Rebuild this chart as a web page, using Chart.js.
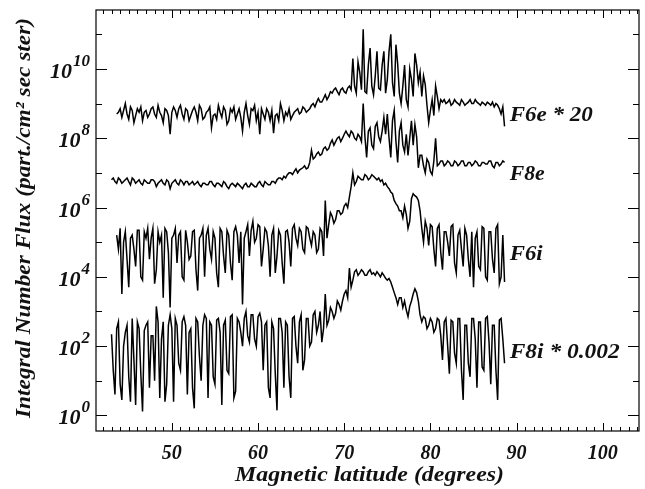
<!DOCTYPE html>
<html>
<head>
<meta charset="utf-8">
<script src="https://cdn.jsdelivr.net/npm/chart.js@4.4.1/dist/chart.umd.min.js"></script>
<style>
  html, body { margin: 0; padding: 0; background: #fff; }
  #wrap { width: 645px; height: 489px; }
</style>
</head>
<body>
<div id="wrap"><canvas id="flux_chart" width="645" height="489"></canvas></div>
<script>
// Sample latitudes (degrees) shared by all four traces
var latitudes = [
    43.0, 43.2, 43.4, 43.6, 43.8, 44.0, 44.2, 44.4, 44.6, 44.8,
    45.0, 45.2, 45.4, 45.6, 45.8, 46.0, 46.2, 46.4, 46.6, 46.8,
    47.0, 47.2, 47.4, 47.6, 47.8, 48.0, 48.2, 48.4, 48.6, 48.8,
    49.0, 49.2, 49.4, 49.6, 49.8, 50.0, 50.2, 50.4, 50.6, 50.8,
    51.0, 51.2, 51.4, 51.6, 51.8, 52.0, 52.2, 52.4, 52.6, 52.8,
    53.0, 53.2, 53.4, 53.6, 53.8, 54.0, 54.2, 54.4, 54.6, 54.8,
    55.0, 55.2, 55.4, 55.6, 55.8, 56.0, 56.2, 56.4, 56.6, 56.8,
    57.0, 57.2, 57.4, 57.6, 57.8, 58.0, 58.2, 58.4, 58.6, 58.8,
    59.0, 59.2, 59.4, 59.6, 59.8, 60.0, 60.2, 60.4, 60.6, 60.8,
    61.0, 61.2, 61.4, 61.6, 61.8, 62.0, 62.2, 62.4, 62.6, 62.8,
    63.0, 63.2, 63.4, 63.6, 63.8, 64.0, 64.2, 64.4, 64.6, 64.8,
    65.0, 65.2, 65.4, 65.6, 65.8, 66.0, 66.2, 66.4, 66.6, 66.8,
    67.0, 67.2, 67.4, 67.6, 67.8, 68.0, 68.2, 68.4, 68.6, 68.8,
    69.0, 69.2, 69.4, 69.6, 69.8, 70.0, 70.2, 70.4, 70.6, 70.8,
    71.0, 71.2, 71.4, 71.6, 71.8, 72.0, 72.2, 72.4, 72.6, 72.8,
    73.0, 73.2, 73.4, 73.6, 73.8, 74.0, 74.2, 74.4, 74.6, 74.8,
    75.0, 75.2, 75.4, 75.6, 75.8, 76.0, 76.2, 76.4, 76.6, 76.8,
    77.0, 77.2, 77.4, 77.6, 77.8, 78.0, 78.2, 78.4, 78.6, 78.8,
    79.0, 79.2, 79.4, 79.6, 79.8, 80.0, 80.2, 80.4, 80.6, 80.8,
    81.0, 81.2, 81.4, 81.6, 81.8, 82.0, 82.2, 82.4, 82.6, 82.8,
    83.0, 83.2, 83.4, 83.6, 83.8, 84.0, 84.2, 84.4, 84.6, 84.8,
    85.0, 85.2, 85.4, 85.6, 85.8, 86.0, 86.2, 86.4, 86.6, 86.8,
    87.0, 87.2, 87.4, 87.6, 87.8, 88.0, 88.2, 88.4, 88.6
]

// F6e * 20
var f6eFlux = [
    null, null, null, 5e8, 5.6e8, 7.1e8, 4e8, 6.3e8, 1e9, 5e8,
    3.5e8, 8e8, 6.3e8, 2.8e8, 4.5e8, 7.1e8, 5.6e8, 8e8, 3.2e8, 5.6e8,
    6.3e8, 4e8, 5e8, 7.1e8, 8e8, 5e8, 4e8, 8.9e8, 5.6e8, 4.5e8,
    2.8e8, 7.1e8, 6.3e8, 4.5e8, 1.3e8, 5.6e8, 8e8, 6.3e8, 4e8, 7.1e8,
    8.9e8, 5e8, 3.5e8, 7.1e8, 6.3e8, 3.2e8, 4.5e8, 6.3e8, 8e8, 5.6e8,
    3.2e8, 8.9e8, 7.1e8, 3.5e8, 4e8, 5.6e8, 6.3e8, 8e8, 2e8, 4.5e8,
    5e8, 3.5e8, 8.9e8, 5.6e8, 4e8, 8e8, 6.3e8, 2.5e8, 3.2e8, 7.1e8,
    5.6e8, 8e8, 3.5e8, 5e8, 7.1e8, 4e8, 1.6e8, 5.6e8, 1e9, 4.5e8,
    2.5e8, 7.1e8, 6.3e8, 8.9e8, 3.2e8, 5.6e8, 1.3e8, 7.1e8, 5e8, 3.5e8,
    7.1e8, 5.6e8, 3.2e8, 6.3e8, 1.4e8, 4.5e8, 5e8, 3.2e8, 1e9, 6.3e8,
    3.2e8, 5.6e8, 4.5e8, 7.1e8, 3.5e8, 4.5e8, 5.6e8, 6.3e8, 7.1e8, 5e8,
    5.6e8, 8e8, 7.1e8, 5.6e8, 6.3e8, 7.1e8, 8.9e8, 1e9, 8e8, 1.1e9,
    1.4e9, 1.1e9, 1.1e9, 1.4e9, 1.8e9, 1.3e9, 1.6e9, 2.2e9, 2e9, 2.5e9,
    2.8e9, 2.2e9, 1.8e9, 2.5e9, 2.8e9, 2.2e9, 2e9, 2.8e9, 3.2e9, 2.5e9,
    2e10, 3.2e9, 2e9, 1.6e10, 8e9, 2.5e9, 1.4e11, 2.2e9, 2e9, 1.3e10,
    4e10, 3.2e9, 1.8e9, 6.3e9, 3.2e10, 2.8e9, 2.5e9, 1.3e10, 3.2e10, 2e9,
    5e9, 3.2e10, 1e11, 4e9, 1.6e9, 5e10, 1.4e10, 2e9, 1e9, 3.2e9,
    1.3e10, 1.3e9, 8e8, 1e10, 5e9, 1.6e9, 2.8e10, 1.3e10, 4e9, 8e9,
    1.6e9, 6.3e9, 3.5e9, 8.9e8, 2.8e8, 6.3e8, 1.3e9, 4.5e8, 3.2e9, 1.6e9,
    7.1e8, 1.3e9, 1.1e9, 1.3e9, 1e9, 1.1e9, 1.3e9, 8.9e8, 1e9, 1.3e9,
    1.1e9, 1e9, 8.9e8, 1.3e9, 1.1e9, 8.9e8, 1e9, 1.1e9, 1.3e9, 1e9,
    1e9, 1.3e9, 1.1e9, 1e9, 8.9e8, 1.1e9, 1e9, 8.9e8, 1.1e9, 1e9,
    8.9e8, 1.1e9, 8e8, 1e9, 8.9e8, 7.1e8, 5e8, 8e8, 2.2e8
]

// F8e
var f8eFlux = [
    6.3e6, 7.1e6, 5.6e6, 5e6, 7.1e6, 6.3e6, 5e6, 5.6e6, 6.3e6, 7.1e6,
    5.6e6, 4.5e6, 7.1e6, 6.3e6, 5e6, 5.6e6, 6.3e6, 5e6, 4.5e6, 6.3e6,
    5.6e6, 5e6, 5e6, 6.3e6, 6.3e6, 5.6e6, 4e6, 5e6, 5.6e6, 6.3e6,
    5e6, 4.5e6, 6.3e6, 5.6e6, 3.5e6, 5e6, 5.6e6, 6.3e6, 5e6, 4.5e6,
    6.3e6, 5.6e6, 4.5e6, 5.6e6, 5.6e6, 4.5e6, 5e6, 5.6e6, 4.5e6, 5e6,
    5.6e6, 4.5e6, 4e6, 5e6, 5e6, 4.5e6, 4.5e6, 5.6e6, 5.6e6, 4.5e6,
    4e6, 5e6, 5e6, 4.5e6, 4e6, 5.6e6, 5e6, 4e6, 3.5e6, 4.5e6,
    5e6, 4.5e6, 4e6, 5e6, 4.5e6, 4e6, 3.5e6, 4.5e6, 5e6, 4e6,
    4e6, 5e6, 4.5e6, 4e6, 4e6, 5e6, 5.6e6, 4.5e6, 4e6, 5.6e6,
    5e6, 4.5e6, 4.5e6, 5.6e6, 5.6e6, 5e6, 6.3e6, 7.1e6, 7.1e6, 6.3e6,
    8e6, 7.1e6, 8.9e6, 1e7, 1e7, 8.9e6, 1.1e7, 1.3e7, 1e7, 1.2e7,
    1.3e7, 1.4e7, 1.6e7, 1.3e7, 1.4e7, 2e7, 4.5e7, 2.5e7, 2.8e7, 3.5e7,
    4e7, 3.2e7, 3.5e7, 5e7, 5.6e7, 4.5e7, 5e7, 7.1e7, 8.9e7, 6.3e7,
    8e7, 1e8, 1.1e8, 8e7, 1e8, 1.3e8, 1.6e8, 1.3e8, 1.1e8, 1.6e8,
    1.4e8, 1e8, 8.9e7, 1.3e8, 1.1e8, 8e7, 1e9, 1.1e8, 2.8e7, 1.6e8,
    2e8, 6.3e7, 5e7, 2.2e8, 2.8e8, 1.1e8, 8e7, 1.6e8, 4e8, 1.3e8,
    5e8, 1e8, 2.8e7, 3.2e8, 6.3e8, 8e7, 2e7, 1.6e8, 2.8e8, 6.3e7,
    4e7, 1.3e8, 3.2e7, 1e8, 3.2e8, 6.3e7, 2.5e8, 1.1e8, 1.4e7, 3.2e7,
    3.2e7, 1.6e7, 1e7, 2.5e7, 2e7, 1.1e7, 8.9e6, 2.2e7, 1e8, 1.6e7,
    1.8e7, 2.2e7, 2.2e7, 1.6e7, 1.8e7, 2.2e7, 2e7, 1.6e7, 1.6e7, 2.2e7,
    2e7, 1.6e7, 1.8e7, 2.2e7, 2.2e7, 1.6e7, 1.6e7, 2e7, 2e7, 1.6e7,
    1.8e7, 2.2e7, 2e7, 1.6e7, 1.6e7, 2e7, 2e7, 1.8e7, 1.8e7, 2.2e7,
    2.2e7, 1.6e7, 1.4e7, 2e7, 2e7, 1.6e7, 1.8e7, 2.2e7, 2e7
]

// F6i
var f6iFlux = [
    null, null, null, 1.6e5, 6.3e4, 2.5e5, 3.2e3, 1e5, 2e5, 3.2e4,
    5e3, 1.3e5, 1.6e5, 6.3e4, 2e4, 2.2e5, 2.2e5, 1e4, 8e3, 2e5,
    1.3e5, 2.5e5, 3.2e4, 1.3e5, 2.5e5, 6.3e3, 1.6e4, 2e5, 1e5, 1.6e5,
    2.5e3, 2.5e5, 2e5, 5e4, 1.3e3, 1.3e5, 1.6e5, 2.5e5, 2.5e4, 1.6e5,
    2e5, 1e4, 8e3, 2.2e5, 1e5, 3.2e4, 4e4, 2e5, 2.2e5, 1.6e4,
    4e3, 1.3e5, 1.6e5, 2.5e5, 1e4, 1.6e5, 2.5e5, 6.3e4, 3.2e4, 2e5,
    1.3e5, 1.3e4, 5e3, 2.5e5, 2e5, 4e4, 1.3e4, 2.2e5, 1.6e5, 2.5e4,
    8e3, 2e5, 2.8e5, 1.6e5, 2.5e4, 2e5, 1.6e3, 1.3e5, 2e5, 3.2e5,
    4e4, 2.2e5, 4e5, 1e5, 1.3e5, 3.2e5, 2.8e5, 2e4, 6.3e4, 2.5e5,
    2e5, 8e4, 1e4, 1.6e5, 2.5e5, 1.3e4, 4e4, 2.2e5, 1.6e5, 2.5e4,
    6.3e3, 2e5, 2.2e5, 1e5, 2e4, 2.5e5, 3.2e5, 1.3e5, 8e4, 2.5e5,
    2e5, 6.3e4, 5e4, 2.8e5, 2.5e5, 1.3e5, 8e4, 2e5, 1.6e5, 5e4,
    6.3e4, 2.5e5, 2e5, 4e4, 1.6e6, 1.3e5, 3.2e5, 7.1e5, 5.6e5, 3.5e5,
    4.5e5, 8e5, 8e5, 6.3e5, 7.1e5, 1.1e6, 1.3e6, 1e6, 2e6, 4e6,
    1e7, 4.5e6, 5.6e6, 8e6, 7.1e6, 6.3e6, 6.3e6, 8.9e6, 8e6, 6.3e6,
    7.1e6, 8.9e6, 8e6, 7.1e6, 6.3e6, 7.1e6, 5.6e6, 6.3e6, 4.5e6, 5e6,
    4e6, 3.5e6, 2.8e6, 2.5e6, 1.6e6, 1.3e6, 1.1e6, 8e5, 8e5, 5e5,
    1.1e6, 6.3e5, 2.5e5, 4e5, 1.8e6, 2.5e6, 2.2e6, 2e6, 1.6e6, 8e5,
    2.5e5, 1e5, 4e5, 2.5e5, 8e4, 3.2e5, 2.8e5, 6.3e4, 2e4, 2.5e5,
    3.2e5, 5e4, 1.6e4, 2e5, 2e5, 1e5, 4e4, 2.8e5, 3.2e5, 2.5e4,
    1.3e4, 1.6e5, 2.2e5, 6.3e4, 2e4, 2.5e5, 1.6e5, 3.2e4, 1e4, 2e5,
    5e3, 1.3e5, 2e5, 2e4, 1.6e4, 2.8e5, 2.5e5, 1e4, 8e3, 2e5,
    2e5, 3.2e4, 1.3e4, 2.5e5, 3.2e5, 6.3e3, 1e4, 1.6e5, 7.1e3
]

// F8i * 0.002
var f8iFlux = [
    2.2e2, 20, 4, 3.2e2, 5e2, 8, 2.8, 1e2, 2.5e2, 4e2,
    13, 2.5, 6.3e2, 40, 2, 5e2, 3.2e2, 16, 1.3, 2.8e2,
    4e2, 5e2, 6.3, 2e2, 2e2, 10, 1.4e3, 5e2, 3.2, 1.6e2,
    5e2, 2.5, 8, 4e2, 8e2, 3.2e2, 2.5, 6.3e2, 4e2, 32,
    20, 5e2, 7.1e2, 4e2, 4, 2.5e2, 3.2e2, 6.3, 1.6, 6.3e2,
    5e2, 50, 10, 4e2, 8e2, 6.3e2, 3.2, 5e2, 4e2, 13,
    8, 5.6e2, 6.3e2, 2.5e2, 2, 4e2, 5.6e2, 20, 16, 7.1e2,
    8e2, 3.2, 5, 6.3e2, 5e2, 2.5e2, 1e2, 6.3e2, 1e3, 2e2,
    1.3e2, 8e2, 8e2, 1.6e2, 1e2, 7.1e2, 8.9e2, 5e2, 20, 4e2,
    5e2, 6.3, 3.2, 5e2, 3.2e2, 16, 1.4, 6.3e2, 6.3e2, 2.5e2,
    6.3, 5e2, 4e2, 13, 3.2, 6.3e2, 7.1e2, 1e2, 32, 5e2,
    8e2, 20, 40, 6.3e2, 6.3e2, 1e2, 1.3e2, 8e2, 1e3, 2.5e2,
    4e2, 1e3, 1.3e2, 3.2e2, 3.2e3, 4e2, 5.6e2, 1.3e3, 1e3, 6.3e2,
    8.9e2, 2e3, 1.6e3, 1.1e3, 2e3, 3.2e3, 4e3, 2.5e3, 1.8e4, 5e3,
    8e3, 1.4e4, 1.6e4, 1.1e4, 1.3e4, 1.6e4, 1.4e4, 1.1e4, 1.1e4, 1.4e4,
    1.6e4, 1.2e4, 1.3e4, 1.1e4, 1.4e4, 1.2e4, 1e4, 1.3e4, 1.1e4, 9e3,
    8e3, 8.9e3, 7.1e3, 5e3, 3.5e3, 2.5e3, 1.6e3, 2.5e3, 2.5e3, 1.3e3,
    2e3, 1.1e3, 7.1e2, 1.4e3, 2e3, 3.2e3, 4.5e3, 3.5e3, 2e3, 8e2,
    5e2, 7.1e2, 6.3e2, 3.2e2, 4e2, 6.3e2, 5e2, 2.5e2, 3.2e2, 6.3e2,
    5.6e2, 2e2, 40, 5e2, 6.3e2, 1e2, 16, 5.6e2, 5e2, 63,
    32, 6.3e2, 6.3e2, 20, 2.8, 4e2, 4e2, 32, 13, 6.3e2,
    6.3e2, 1.6e2, 6.3, 5e2, 5e2, 25, 20, 6.3e2, 7.1e2, 1.3e2,
    8, 4e2, 4e2, 20, 2.8, 5.6e2, 6.3e2, 1.6e2, 32
]

// Axis ticks
var xTickLabels = [50, 60, 70, 80, 90, 100]
var yTickExponents = [0, 2, 4, 6, 8, 10]

// Trace names
var seriesNames = ['F6e * 20', 'F8e', 'F6i', 'F8i * 0.002']

var FONT = "'Liberation Serif', 'DejaVu Serif', serif"

function points(values) {
    return latitudes.map(function (lat, i) {
        return { x: lat, y: values[i] }
    })
}

function drawText(ctx, text, x, y, size, width, align) {
    ctx.font = 'italic bold ' + size + 'px ' + FONT
    var w = ctx.measureText(text).width
    var sx = width ? width / w : 1
    ctx.save()
    ctx.translate(x, y)
    ctx.scale(sx, 1)
    ctx.textAlign = align || 'left'
    ctx.textBaseline = 'alphabetic'
    ctx.fillText(text, 0, 0)
    ctx.restore()
}

// Frame, inward ticks and all the labelling
var framePlugin = {
    id: 'frame',
    afterDraw: function (chart) {
        var ctx = chart.ctx
        var a = chart.chartArea
        var xs = chart.scales.x
        var ys = chart.scales.y

        ctx.save()
        ctx.strokeStyle = '#000'
        ctx.fillStyle = '#111'
        ctx.lineWidth = 1.2
        ctx.strokeRect(a.left, a.top, a.right - a.left, a.bottom - a.top)

        ctx.lineWidth = 1
        ctx.beginPath()
        for (var v = 42; v <= 104; v++) {
            var px = Math.round(xs.getPixelForValue(v)) + 0.5
            var len = v % 10 === 0 ? 8 : 4
            ctx.moveTo(px, a.bottom); ctx.lineTo(px, a.bottom - len)
            ctx.moveTo(px, a.top); ctx.lineTo(px, a.top + len)
        }
        for (var e = 0; e <= 11; e++) {
            var py = Math.round(ys.getPixelForValue(Math.pow(10, e))) + 0.5
            var l = e % 2 === 0 ? 11 : 6
            ctx.moveTo(a.left, py); ctx.lineTo(a.left + l, py)
            ctx.moveTo(a.right, py); ctx.lineTo(a.right - l, py)
        }
        ctx.stroke()

        // x tick labels
        xTickLabels.forEach(function (t) {
            drawText(ctx, String(t), xs.getPixelForValue(t), 459, 20, 0, 'center')
        })

        // y tick labels: 10 with raised exponent
        yTickExponents.forEach(function (e) {
            var py = ys.getPixelForValue(Math.pow(10, e))
            ctx.font = 'italic bold 17px ' + FONT
            var ew = ctx.measureText(String(e)).width
            var right = 90
            drawText(ctx, '10', right - ew - 1, py + 9, 22, 0, 'right')
            drawText(ctx, String(e), right, py - 3, 17, 0, 'right')
        })

        // axis titles
        drawText(ctx, 'Magnetic latitude (degrees)', 369.5, 481, 21, 269, 'center')
        ctx.save()
        ctx.translate(30, 218)
        ctx.rotate(-Math.PI / 2)
        drawText(ctx, 'Integral Number Flux (part./cm\u00b2 sec ster)', 0, 0, 21, 400, 'center')
        ctx.restore()

        // trace names
        var lx = xs.getPixelForValue(89.2)
        drawText(ctx, seriesNames[0], lx, ys.getPixelForValue(Math.pow(10, 8.51)), 22, 83)
        drawText(ctx, seriesNames[1], lx, ys.getPixelForValue(Math.pow(10, 6.78)), 22, 35)
        drawText(ctx, seriesNames[2], lx, ys.getPixelForValue(Math.pow(10, 4.48)), 22, 33)
        drawText(ctx, seriesNames[3], lx, ys.getPixelForValue(Math.pow(10, 1.65)), 22, 110)

        ctx.restore()
    }
}

function lineSet(label, values) {
    return {
        label: label,
        data: points(values),
        borderColor: '#000',
        borderWidth: 1.5,
        pointRadius: 0,
        tension: 0,
        spanGaps: false
    }
}

var ctx = document.getElementById('flux_chart')

new Chart(ctx, {
    type: 'line',
    data: {
        datasets: [
            lineSet(seriesNames[0], f6eFlux),
            lineSet(seriesNames[1], f8eFlux),
            lineSet(seriesNames[2], f6iFlux),
            lineSet(seriesNames[3], f8iFlux)
        ]
    },
    options: {
        responsive: false,
        animation: false,
        layout: {
            padding: { left: 96, right: 6, top: 10, bottom: 58 }
        },
        plugins: {
            legend: { display: false },
            tooltip: { enabled: false }
        },
        scales: {
            x: {
                type: 'linear',
                min: 41.2,
                max: 104.2,
                grid: { display: false },
                border: { display: false },
                ticks: { display: false },
                afterFit: function (s) { s.height = 0 }
            },
            y: {
                type: 'logarithmic',
                min: Math.pow(10, -0.45),
                max: Math.pow(10, 11.7),
                grid: { display: false },
                border: { display: false },
                ticks: { display: false },
                afterFit: function (s) { s.width = 0 }
            }
        }
    },
    plugins: [framePlugin]
})
</script>
</body>
</html>
